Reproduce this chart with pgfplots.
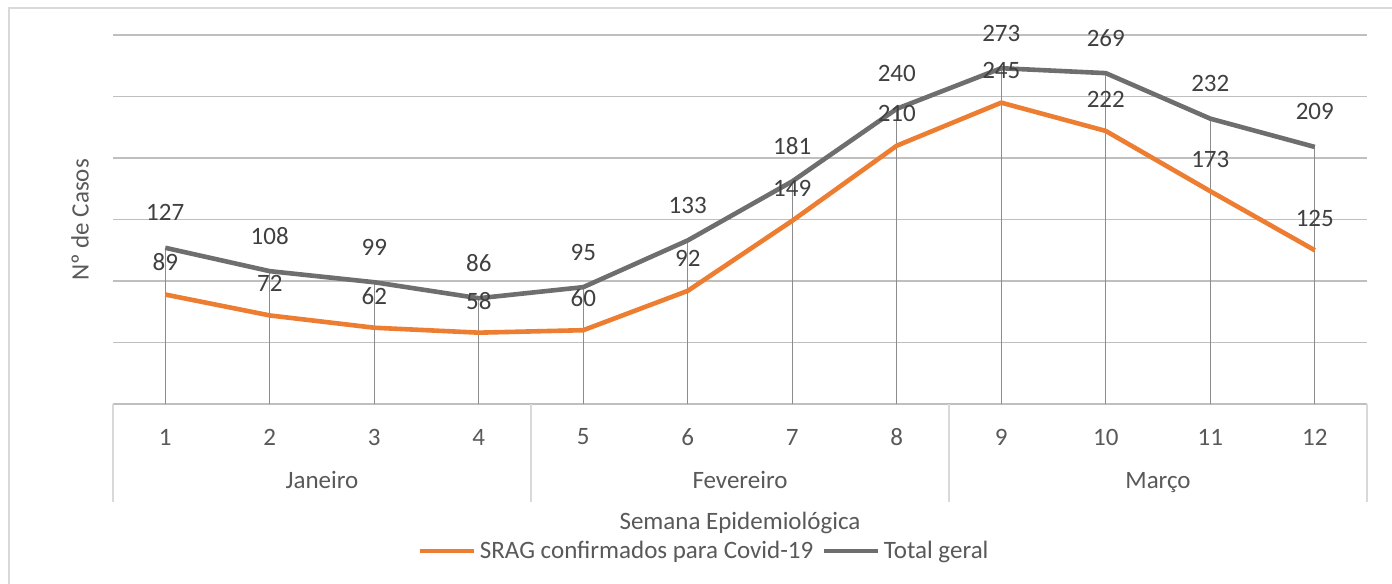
\documentclass[border=0pt]{standalone}
\usepackage{fontspec}
\setmainfont{Carlito}
\usepackage{pgfplots}
\pgfplotsset{compat=1.18}
\definecolor{srag}{HTML}{ED7D31}
\definecolor{total}{HTML}{6E6E6E}
\definecolor{grid}{HTML}{D9D9D9}
\definecolor{txt}{HTML}{595959}
\definecolor{lbl}{HTML}{404040}
\definecolor{drop}{HTML}{8C8C8C}
\begin{document}
\begin{tikzpicture}[font=\fontsize{12.5bp}{15bp}\selectfont]
\useasboundingbox (-56.5bp,-90bp) rectangle (639.5bp,202bp);
\fill[white] (-56.5bp,-90bp) rectangle (639.5bp,202bp);
\draw[grid, line width=1bp] (-52bp,-90bp) -- (-52bp,198bp) -- (639.5bp,198bp);
\begin{axis}[
  scale only axis, width=627bp, height=184.5bp,
  xmin=0.5, xmax=12.5, ymin=0, ymax=300,
  xtick={1,...,12}, ytick={0,50,...,300}, yticklabels={},
  xmajorgrids=false, ymajorgrids=true, grid style={grid, line width=0.8bp},
  axis line style={draw=none}, major tick length=0pt, tick style={draw=none},
  xticklabel style={anchor=center, yshift=-16.5bp, text=txt},
  /pgf/number format/assume math mode=true,
  clip=false,
  legend style={at={(0.472,-0.398)}, anchor=center, draw=none, fill=none,
    legend columns=2, text=txt, /tikz/every even column/.append style={column sep=2bp},
    inner sep=0pt, cells={anchor=west}},
  legend image code/.code={\draw[#1, line width=2.3bp] (0,0) -- (27bp,0);},
]
% drop lines from the highest series down to the axis
\addplot[ycomb, draw=drop, line width=0.6bp, mark=none, forget plot] coordinates {
(1,127)(2,108)(3,99)(4,86)(5,95)(6,133)(7,181)(8,240)(9,273)(10,269)(11,232)(12,209)};
\addplot[srag, line width=2.3bp, line join=round, mark=none,
  nodes near coords, every node near coord/.style={anchor=center, yshift=16bp, text=lbl}]
  coordinates {
(1,89)(2,72)(3,62)(4,58)(5,60)(6,92)(7,149)(8,210)(9,245)(10,222)(11,173)(12,125)};
\addplot[total, line width=2.3bp, line join=round, mark=none,
  nodes near coords, every node near coord/.style={anchor=center, yshift=17.5bp, text=lbl}]
  coordinates {
(1,127)(2,108)(3,99)(4,86)(5,95)(6,133)(7,181)(8,240)(9,273)(10,269)(11,232)(12,209)};
\legend{SRAG confirmados para Covid-19, Total geral}
\foreach \s in {0.5,4.5,8.5,12.5}{
  \edef\tmp{\noexpand\draw[grid, line width=0.8bp] (axis cs:\s,0) -- ([yshift=-49bp]axis cs:\s,0);}\tmp
}
\node[text=txt, anchor=base] at ([yshift=-42bp]axis cs:2.5,0) {Janeiro};
\node[text=txt, anchor=base] at ([yshift=-42bp]axis cs:6.5,0) {Fevereiro};
\node[text=txt, anchor=base] at ([yshift=-42bp]axis cs:10.5,0) {Março};
\end{axis}
\node[rotate=90, text=txt] at (-16.5bp,92bp) {Nº de Casos};
\node[text=txt, anchor=base] at (313.5bp,-62.5bp) {Semana Epidemiológica};
\end{tikzpicture}
\end{document}
